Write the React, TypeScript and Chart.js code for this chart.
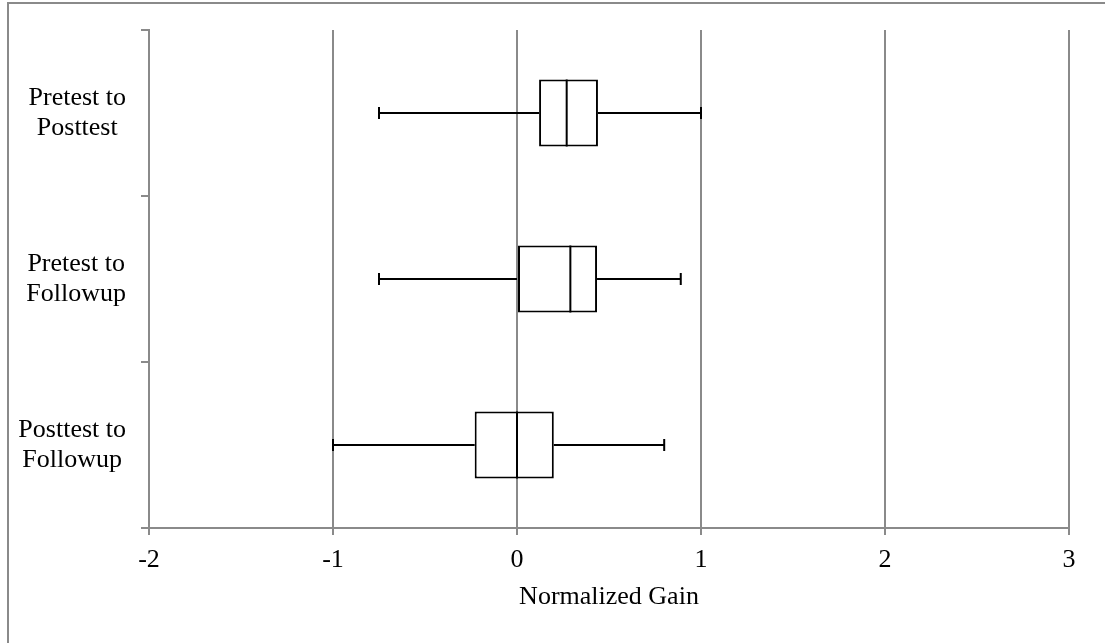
import React, { useEffect, useRef } from "react";
import { Chart, registerables } from "chart.js";

Chart.register(...registerables);

const CATEGORIES = ["Pretest to Posttest", "Pretest to Followup", "Posttest to Followup"];
const LABEL_LINES = [
  ["Pretest to", "Posttest"],
  ["Pretest to", "Followup"],
  ["Posttest to", "Followup"],
];
const MIN_VALUES = [-0.75, -0.75, -1.0];
const Q1_VALUES = [0.12, 0.0, -0.23];
const MEDIAN_VALUES = [0.27, 0.29, 0.0];
const Q3_VALUES = [0.44, 0.435, 0.2];
const MAX_VALUES = [1.0, 0.89, 0.8];
const X_MIN = -2;
const X_MAX = 3;
const X_TITLE = "Normalized Gain";

const FONT_FAMILY = "'Times New Roman', 'Liberation Serif', serif";
const GRID = "#8a8a8a";

export default function App() {
  const ref = useRef<HTMLCanvasElement | null>(null);

  useEffect(() => {
    if (!ref.current) return;

    const boxPlugin = {
      id: "boxWhiskers",
      beforeDraw(chart: any) {
        const ctx = chart.ctx;
        ctx.save();
        ctx.strokeStyle = GRID;
        ctx.lineWidth = 2;
        ctx.beginPath();
        ctx.moveTo(8, chart.height);
        ctx.lineTo(8, 3);
        ctx.lineTo(chart.width, 3);
        ctx.stroke();
        ctx.restore();
      },
      afterDatasetsDraw(chart: any) {
        const ctx = chart.ctx;
        const xs = chart.scales.x;
        const meta = chart.getDatasetMeta(0);
        ctx.save();
        ctx.strokeStyle = "#000";
        ctx.lineWidth = 2;
        CATEGORIES.forEach((_, i) => {
          const el = meta.data[i] as any;
          const yc = el.y;
          const h = el.height;
          const pMin = xs.getPixelForValue(MIN_VALUES[i]);
          const pQ1 = xs.getPixelForValue(Q1_VALUES[i]);
          const pMed = xs.getPixelForValue(MEDIAN_VALUES[i]);
          const pQ3 = xs.getPixelForValue(Q3_VALUES[i]);
          const pMax = xs.getPixelForValue(MAX_VALUES[i]);
          ctx.beginPath();
          ctx.moveTo(pMin, yc);
          ctx.lineTo(pQ1, yc);
          ctx.moveTo(pQ3, yc);
          ctx.lineTo(pMax, yc);
          ctx.moveTo(pMin, yc - 6);
          ctx.lineTo(pMin, yc + 6);
          ctx.moveTo(pMax, yc - 6);
          ctx.lineTo(pMax, yc + 6);
          ctx.moveTo(pMed, yc - h / 2);
          ctx.lineTo(pMed, yc + h / 2);
          ctx.stroke();
        });
        ctx.restore();
      },
      afterDraw(chart: any) {
        const ctx = chart.ctx;
        const ys = chart.scales.y;
        ctx.save();
        ctx.font = `26px ${FONT_FAMILY}`;
        ctx.fillStyle = "#000";
        ctx.textAlign = "center";
        ctx.textBaseline = "middle";
        const rightEdge = 126;
        LABEL_LINES.forEach((lines, i) => {
          const yc = ys.getPixelForValue(i);
          const w = Math.max(...lines.map((l) => ctx.measureText(l).width));
          const cx = rightEdge - w / 2;
          const lh = 30;
          const startY = yc - ((lines.length - 1) * lh) / 2;
          lines.forEach((l, k) => {
            ctx.fillText(l, cx, startY + k * lh);
          });
        });
        ctx.restore();
      },
    };

    const chart = new Chart(ref.current, {
      type: "bar",
      data: {
        labels: CATEGORIES,
        datasets: [
          {
            data: Q1_VALUES.map((q1, i) => [q1, Q3_VALUES[i]]) as any,
            backgroundColor: "#ffffff",
            borderColor: "#000000",
            borderWidth: 2,
            borderSkipped: false,
            barPercentage: 0.404,
            categoryPercentage: 1,
          },
        ],
      },
      options: {
        indexAxis: "y",
        responsive: false,
        animation: false,
        layout: { padding: { top: 30, right: 36, bottom: 0, left: 0 } },
        plugins: {
          legend: { display: false },
          tooltip: { enabled: false },
          title: { display: false },
        },
        scales: {
          x: {
            type: "linear",
            min: X_MIN,
            max: X_MAX,
            ticks: {
              stepSize: 1,
              color: "#000",
              padding: 10,
              font: { family: FONT_FAMILY, size: 26 },
            },
            grid: {
              color: GRID,
              lineWidth: 2,
              tickLength: 7,
              drawTicks: true,
            },
            border: { display: true, color: GRID, width: 2 },
            title: {
              display: true,
              text: X_TITLE,
              color: "#000",
              font: { family: FONT_FAMILY, size: 26 },
              padding: { top: 0, bottom: 30 },
            },
            afterFit(scale: any) {
              scale.height = 115;
            },
          },
          y: {
            type: "category",
            offset: true,
            ticks: { display: false },
            grid: {
              offset: true,
              drawOnChartArea: false,
              drawTicks: true,
              tickLength: 8,
              color: GRID,
              lineWidth: 2,
            },
            border: { display: true, color: GRID, width: 2 },
            afterFit(scale: any) {
              scale.width = 149;
            },
          },
        },
      },
      plugins: [boxPlugin],
    } as any);

    return () => chart.destroy();
  }, []);

  return (
    <div style={{ position: "fixed", left: 0, top: 0, width: 1105, height: 643, background: "#fff" }}>
      <canvas ref={ref} width={1105} height={643} style={{ display: "block" }} />
    </div>
  );
}
